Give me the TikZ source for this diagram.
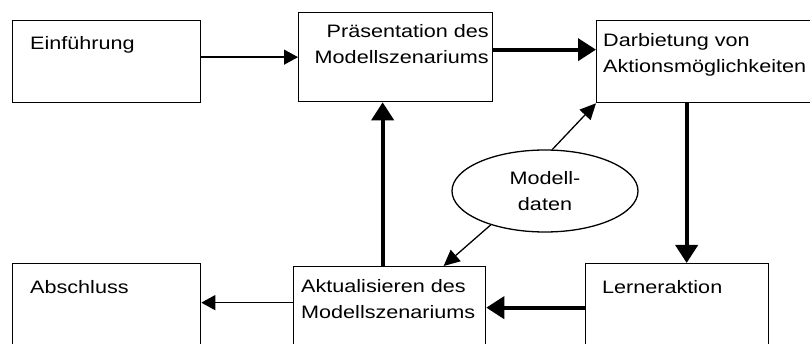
\documentclass[tikz,border=0pt]{standalone}
\usepackage{fontspec}
\setmainfont{Liberation Sans}[FakeStretch=1.2]
\usetikzlibrary{arrows.meta,shapes.geometric}
\begin{document}
\begin{tikzpicture}[x=1pt,y=-1pt,
  box/.style={draw,line width=1.3pt,inner sep=0pt,anchor=north west},
  lbl/.style={inner sep=0pt,font=\fontsize{18}{26}\selectfont},
  thinarrow/.style={line width=1.3pt,-{Triangle[length=14pt,width=15pt]}},
  thickarrow/.style={line width=4pt,-{Triangle[length=18pt,width=22pt]}},
  dataarrow/.style={line width=1.3pt,-{Triangle[length=16pt,width=15pt]}}]
\useasboundingbox (0,0) rectangle (810,344);
\clip (0,0) rectangle (810,344);

% process boxes
\node[box,minimum width=188pt,minimum height=82pt] (ein) at (12,20) {};
\node[box,minimum width=194pt,minimum height=89pt] (pre) at (298,12) {};
\node[box,minimum width=240pt,minimum height=82pt] (dar) at (596,20) {};
\node[box,minimum width=183pt,minimum height=110pt] (ler) at (585,263) {};
\node[box,minimum width=192pt,minimum height=110pt] (akt) at (293,266) {};
\node[box,minimum width=188pt,minimum height=110pt] (abs) at (12,263) {};

% box captions (base anchor = baseline of the last line)
\node[lbl,anchor=base west] (einT) at (30,50) {Einführung};
\node[lbl,anchor=base east,align=right] (preT) at (489,64) {Präsentation des\\Modellszenariums};
\node[lbl,anchor=base west,align=left] (darT) at (603,73) {Darbietung von\\Aktionsmöglichkeiten};
\node[lbl,anchor=base west] (lerT) at (602,293) {Lerneraktion};
\node[lbl,anchor=base west,align=left] (aktT) at (301,318) {Aktualisieren des\\Modellszenariums};
\node[lbl,anchor=base west] (absT) at (30,293) {Abschluss};

% model data
\node[draw,ellipse,line width=1.3pt,minimum width=186pt,minimum height=82pt,
      inner sep=0pt,lbl,align=center] (ell) at (545,191) {Modell-\\daten};

% flow
\draw[thinarrow] (pre.west -| ein.east) -- (pre.west);
\coordinate (p1) at ([yshift=7.5pt]pre.east);
\draw[thickarrow] (p1) -- (dar.west |- p1);
\coordinate (d1) at ([xshift=9.5pt]ler.north);
\draw[thickarrow] (dar.south -| d1) -- (d1);
\coordinate (l1) at ([yshift=11pt]ler.west);
\draw[thickarrow] (l1) -- (akt.east |- l1);
\coordinate (a1) at ([xshift=-7pt]akt.north);
\draw[thickarrow] (a1) -- (pre.south -| a1);
\coordinate (a2) at ([yshift=19pt]akt.west);
\draw[thinarrow] (a2) -- (abs.east |- a2);
\draw[dataarrow] (ell.80) -- (dar.south west);
\draw[dataarrow] (ell.-148) -- ([xshift=54pt]akt.north);
\end{tikzpicture}
\end{document}
